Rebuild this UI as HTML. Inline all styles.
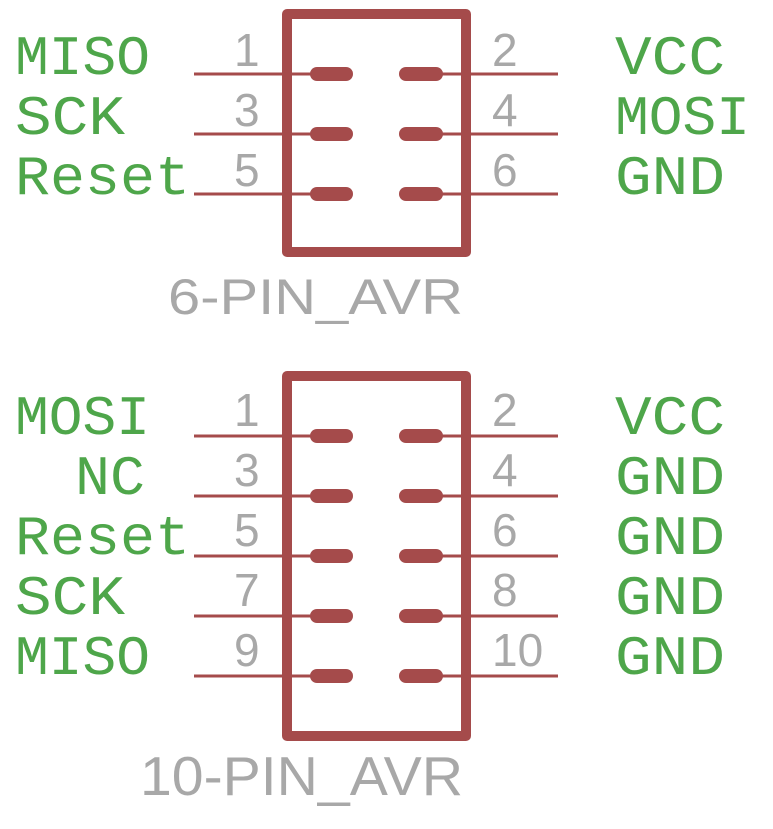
<!DOCTYPE html>
<html><head><meta charset="utf-8"><style>
html,body{margin:0;padding:0;background:#fff;}
svg{display:block;}
.g{fill:#4ea64a;font-family:"Liberation Mono",monospace;font-size:56px;}
.n{fill:#a8a8a8;font-family:"Liberation Sans",sans-serif;font-size:46px;}
.t{fill:#a8a8a8;font-family:"Liberation Sans",sans-serif;}
</style></head><body>
<svg width="773" height="829" viewBox="0 0 773 829" xmlns="http://www.w3.org/2000/svg">
<g stroke="#a54b4b" fill="none" stroke-linejoin="round">
<rect x="287" y="14" width="179" height="238" stroke-width="10"/>
<rect x="287" y="376" width="179" height="360" stroke-width="10"/>
<g stroke-width="3">
<line x1="194" y1="74" x2="320" y2="74"/><line x1="400" y1="74" x2="558" y2="74"/>
<line x1="194" y1="134" x2="320" y2="134"/><line x1="400" y1="134" x2="558" y2="134"/>
<line x1="194" y1="194" x2="320" y2="194"/><line x1="400" y1="194" x2="558" y2="194"/>
<line x1="194" y1="436" x2="320" y2="436"/><line x1="400" y1="436" x2="558" y2="436"/>
<line x1="194" y1="496" x2="320" y2="496"/><line x1="400" y1="496" x2="558" y2="496"/>
<line x1="194" y1="556" x2="320" y2="556"/><line x1="400" y1="556" x2="558" y2="556"/>
<line x1="194" y1="616" x2="320" y2="616"/><line x1="400" y1="616" x2="558" y2="616"/>
<line x1="194" y1="676" x2="320" y2="676"/><line x1="400" y1="676" x2="558" y2="676"/>
</g>
<g stroke-width="14" stroke-linecap="round">
<line x1="317" y1="74" x2="346" y2="74"/><line x1="406" y1="74" x2="436" y2="74"/>
<line x1="317" y1="134" x2="346" y2="134"/><line x1="406" y1="134" x2="436" y2="134"/>
<line x1="317" y1="194" x2="346" y2="194"/><line x1="406" y1="194" x2="436" y2="194"/>
<line x1="317" y1="436" x2="346" y2="436"/><line x1="406" y1="436" x2="436" y2="436"/>
<line x1="317" y1="496" x2="346" y2="496"/><line x1="406" y1="496" x2="436" y2="496"/>
<line x1="317" y1="556" x2="346" y2="556"/><line x1="406" y1="556" x2="436" y2="556"/>
<line x1="317" y1="616" x2="346" y2="616"/><line x1="406" y1="616" x2="436" y2="616"/>
<line x1="317" y1="676" x2="346" y2="676"/><line x1="406" y1="676" x2="436" y2="676"/>
</g>
</g>
<!-- green labels top -->
<text class="g" x="15" y="74" textLength="135" lengthAdjust="spacingAndGlyphs">MISO</text>
<text class="g" x="15" y="134" textLength="110" lengthAdjust="spacingAndGlyphs">SCK</text>
<text class="g" x="15" y="194" textLength="175" lengthAdjust="spacingAndGlyphs">Reset</text>
<text class="g" x="615" y="74" textLength="110" lengthAdjust="spacingAndGlyphs">VCC</text>
<text class="g" x="615" y="134" textLength="135" lengthAdjust="spacingAndGlyphs">MOSI</text>
<text class="g" x="615" y="194" textLength="110" lengthAdjust="spacingAndGlyphs">GND</text>
<!-- green labels bottom -->
<text class="g" x="15" y="434" textLength="135" lengthAdjust="spacingAndGlyphs">MOSI</text>
<text class="g" x="75" y="494" textLength="70" lengthAdjust="spacingAndGlyphs">NC</text>
<text class="g" x="15" y="554" textLength="175" lengthAdjust="spacingAndGlyphs">Reset</text>
<text class="g" x="15" y="614" textLength="110" lengthAdjust="spacingAndGlyphs">SCK</text>
<text class="g" x="15" y="674" textLength="135" lengthAdjust="spacingAndGlyphs">MISO</text>
<text class="g" x="615" y="434" textLength="110" lengthAdjust="spacingAndGlyphs">VCC</text>
<text class="g" x="615" y="494" textLength="110" lengthAdjust="spacingAndGlyphs">GND</text>
<text class="g" x="615" y="554" textLength="110" lengthAdjust="spacingAndGlyphs">GND</text>
<text class="g" x="615" y="614" textLength="110" lengthAdjust="spacingAndGlyphs">GND</text>
<text class="g" x="615" y="674" textLength="110" lengthAdjust="spacingAndGlyphs">GND</text>
<!-- numbers -->
<text class="n" x="234" y="66">1</text>
<text class="n" x="234" y="126">3</text>
<text class="n" x="234" y="186">5</text>
<text class="n" x="492" y="66">2</text>
<text class="n" x="492" y="126">4</text>
<text class="n" x="492" y="186">6</text>
<text class="n" x="234" y="426">1</text>
<text class="n" x="234" y="486">3</text>
<text class="n" x="234" y="546">5</text>
<text class="n" x="234" y="606">7</text>
<text class="n" x="234" y="666">9</text>
<text class="n" x="492" y="426">2</text>
<text class="n" x="492" y="486">4</text>
<text class="n" x="492" y="546">6</text>
<text class="n" x="492" y="606">8</text>
<text class="n" x="492" y="666">10</text>
<text class="t" x="168" y="314" font-size="50" textLength="295" lengthAdjust="spacingAndGlyphs">6-PIN_AVR</text>
<text class="t" x="140" y="795" font-size="55" textLength="323" lengthAdjust="spacingAndGlyphs">10-PIN_AVR</text>
</svg>
</body></html>
